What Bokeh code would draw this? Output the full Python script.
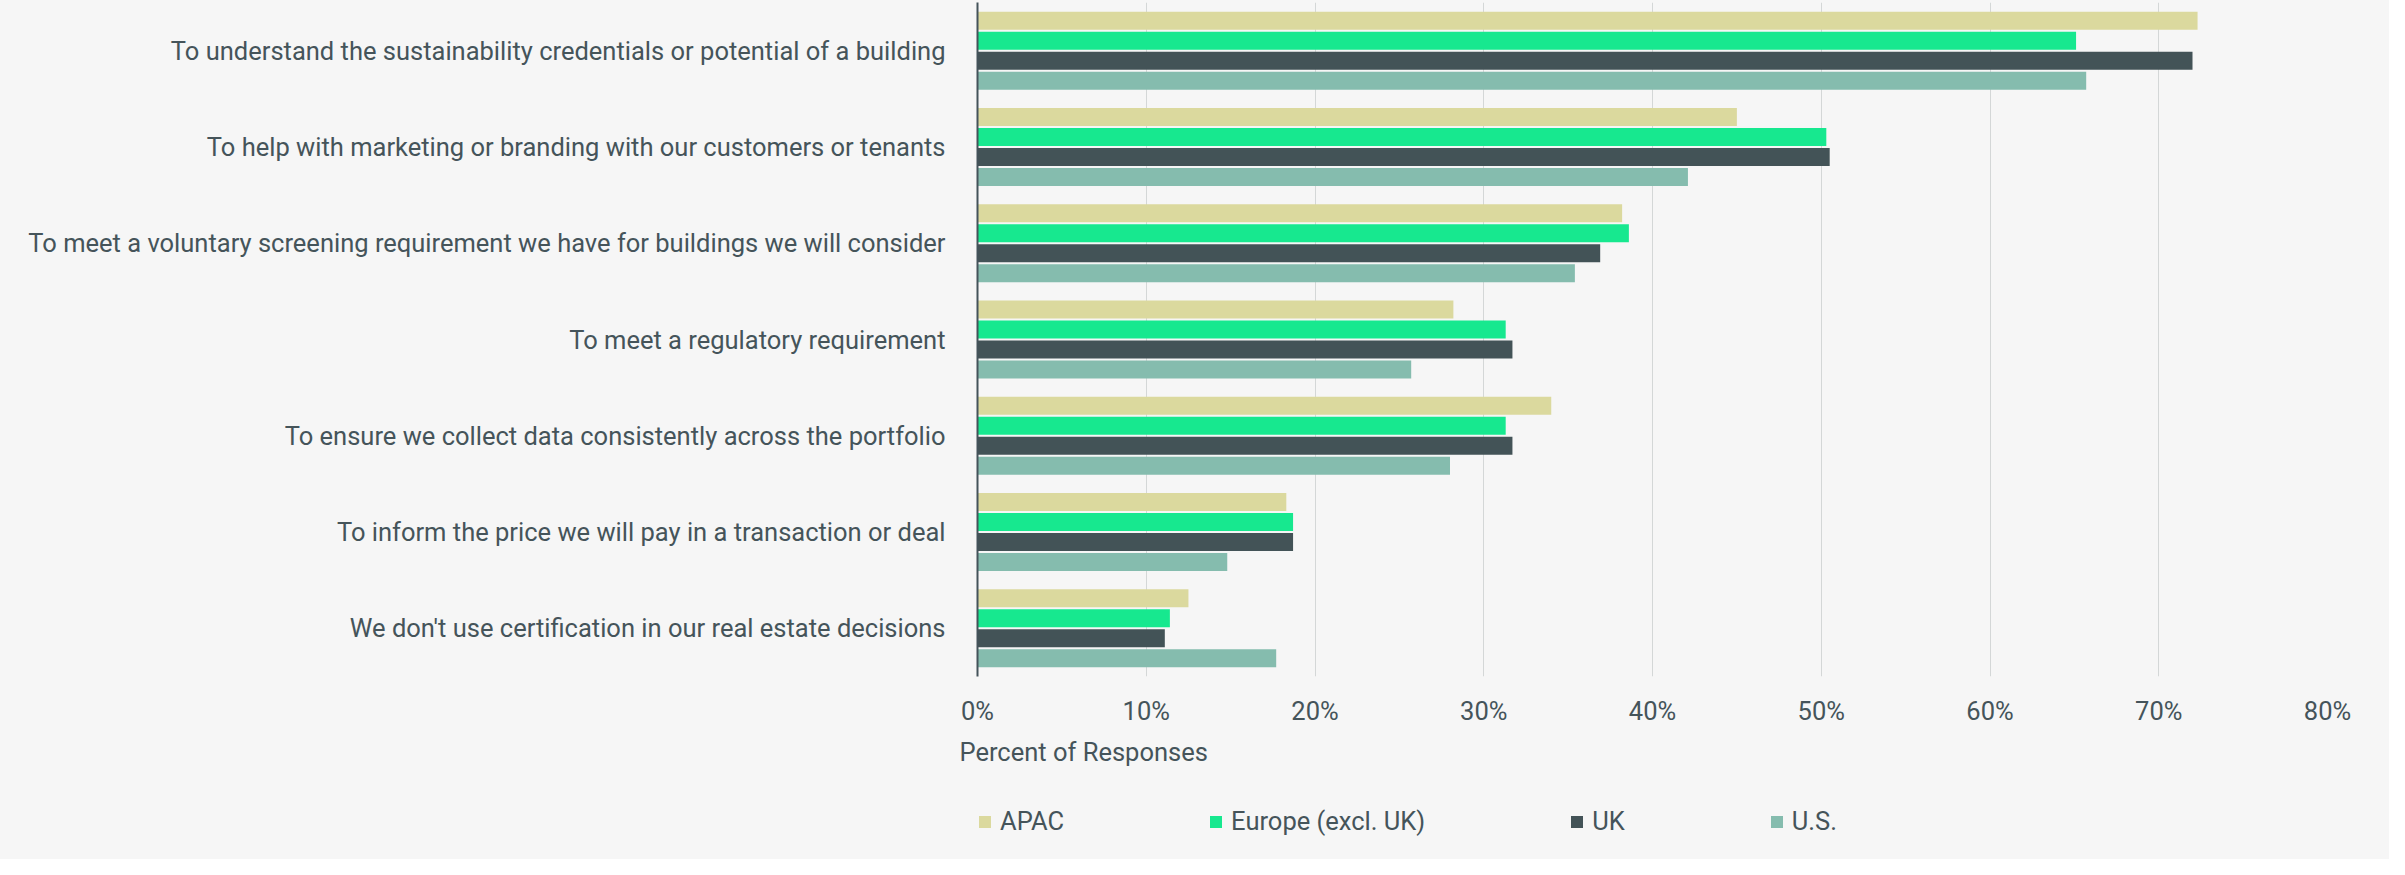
from bokeh.plotting import figure
from bokeh.layouts import column
from bokeh.models import ColumnDataSource
from bokeh.models import FixedTicker, PrintfTickFormatter, Legend, LegendItem, Title
from bokeh.transform import dodge
from bokeh.embed import file_html
from bokeh.resources import INLINE

categories = [
    "To understand the sustainability credentials or potential of a building",
    "To help with marketing or branding with our customers or tenants",
    "To meet a voluntary screening requirement we have for buildings we will consider",
    "To meet a regulatory requirement",
    "To ensure we collect data consistently across the portfolio",
    "To inform the price we will pay in a transaction or deal",
    "We don't use certification in our real estate decisions",
]
series_names = ["APAC", "Europe (excl. UK)", "UK", "U.S."]
apac = [72.3, 45.0, 38.2, 28.2, 34.0, 18.3, 12.5]
europe = [65.1, 50.3, 38.6, 31.3, 31.3, 18.7, 11.4]
uk = [72.0, 50.5, 36.9, 31.7, 31.7, 18.7, 11.1]
us = [65.7, 42.1, 35.4, 25.7, 28.0, 14.8, 17.7]
x_ticks = [0, 10, 20, 30, 40, 50, 60, 70, 80]

colors = ["#dbd99e", "#17e88f", "#435357", "#85bcae"]
TEXT = "#45545a"
FONT = "Roboto"
FS = "25.5px"
BG = "#f6f6f6"

source = ColumnDataSource(dict(cat=categories, APAC=apac, EU=europe, UK=uk, US=us))

p = figure(
    y_range=list(reversed(categories)),
    x_range=(0, 80),
    width=2389, height=797,
    output_backend="svg", toolbar_location=None,
    min_border_left=977, min_border_right=62, min_border_top=2, min_border_bottom=121,
)
p.background_fill_color = BG
p.border_fill_color = BG
p.outline_line_color = None

keys = ["APAC", "EU", "UK", "US"]
offsets = [0.3115, 0.104, -0.104, -0.3115]
for k, off, c in zip(keys, offsets, colors):
    p.hbar(y=dodge("cat", off, range=p.y_range), right=k, left=0, height=0.187,
           source=source, fill_color=c, line_color=None)

p.xaxis.ticker = FixedTicker(ticks=x_ticks)
p.xaxis.formatter = PrintfTickFormatter(format="%d%%")
p.xaxis.axis_line_color = None
p.xaxis.major_tick_line_color = None
p.xaxis.minor_tick_line_color = None
p.xaxis.major_label_standoff = 13
p.xaxis.major_label_text_font = FONT
p.xaxis.major_label_text_font_size = FS
p.xaxis.major_label_text_color = TEXT

p.yaxis.axis_line_color = "#44535a"
p.yaxis.axis_line_width = 2
p.yaxis.major_tick_line_color = None
p.yaxis.minor_tick_line_color = None
p.yaxis.major_label_standoff = 26
p.yaxis.major_label_text_font = FONT
p.yaxis.major_label_text_font_size = FS
p.yaxis.major_label_text_color = TEXT

p.xgrid.grid_line_color = "#d4d7d7"
p.xgrid.grid_line_width = 1
p.ygrid.grid_line_color = None

t = Title(text="Percent of Responses", align="left", offset=-18,
          text_font=FONT, text_font_size=FS, text_color=TEXT,
          text_font_style="normal", standoff=12)
p.add_layout(t, "below")

# legend strip under the chart (same series colours)
lg = figure(width=2389, height=62, x_range=(0, 1), y_range=(0, 1),
            output_backend="svg", toolbar_location=None,
            min_border_left=977, min_border_right=62, min_border_top=0, min_border_bottom=0)
lg.axis.visible = False
lg.grid.visible = False
lg.background_fill_color = BG
lg.border_fill_color = BG
lg.outline_line_color = None
proxy = ColumnDataSource(dict(y=[-1.0], right=[0.0]))
items = []
for c, name in zip(colors, series_names):
    r = lg.hbar(y="y", right="right", left=0, height=0.5, source=proxy,
                fill_color=c, line_color=None)
    items.append(LegendItem(label=name, renderers=[r]))
legend = Legend(items=items, orientation="horizontal", location=(0, 23),
                spacing=144, glyph_width=15, glyph_height=15, label_standoff=8,
                label_text_font=FONT, label_text_font_size=FS, label_text_color=TEXT,
                background_fill_alpha=0, border_line_color=None, padding=0, margin=0)
lg.add_layout(legend, "center")

layout = column(p, lg, spacing=0, styles={"background-color": BG})
open("out.html", "w").write(file_html(layout, INLINE))
